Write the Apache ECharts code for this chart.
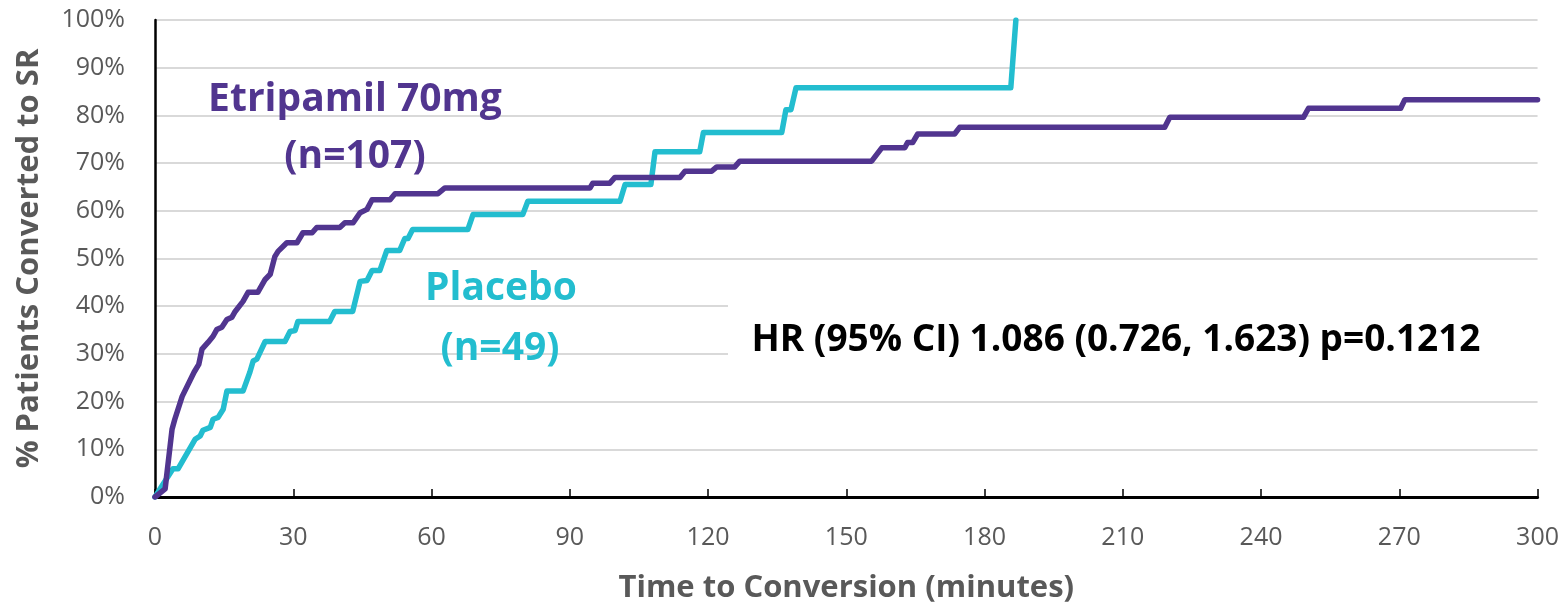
<!DOCTYPE html>
<html>
<head>
<meta charset="utf-8">
<script src="https://cdn.jsdelivr.net/npm/echarts@6/dist/echarts.min.js"></script>
<style>
  html, body { margin: 0; padding: 0; background: #ffffff; }
  #chart { width: 1562px; height: 609px; }
</style>
</head>
<body>
<div id="chart"></div>
<script>
// ---- Data ----
const xTickValues = [0, 30, 60, 90, 120, 150, 180, 210, 240, 270, 300];
const yTickValues = [0, 10, 20, 30, 40, 50, 60, 70, 80, 90, 100];

const etripamilTime = [0, 0.4, 2.2, 3.7, 4.3, 5.9, 8.5, 9.5, 10.2, 11.5, 12.6, 13.4, 14.5, 15.6, 16.7, 17.4, 19.1, 20.2, 22.3, 23.9, 25.0, 26.0, 26.7, 28.6, 30.8, 32.1, 34.1, 35.1, 40.1, 41.2, 43.0, 44.5, 46.0, 47.1, 51.0, 52.1, 61.4, 62.9, 94.4, 95.0, 98.7, 99.8, 113.9, 115.0, 120.8, 121.9, 125.8, 126.9, 155.5, 157.7, 162.7, 163.3, 164.4, 165.5, 173.5, 174.6, 219.1, 220.2, 249.2, 250.3, 270.3, 271.2, 300];
const etripamilPct  = [0, 0, 1.7, 14.2, 16.3, 21.1, 26.2, 27.8, 31.0, 32.4, 33.7, 35.1, 35.6, 37.2, 37.7, 38.9, 41.0, 42.9, 42.9, 45.6, 46.7, 50.4, 51.5, 53.3, 53.3, 55.4, 55.4, 56.5, 56.5, 57.5, 57.5, 59.6, 60.3, 62.3, 62.3, 63.6, 63.6, 64.8, 64.8, 65.8, 65.8, 67.0, 67.0, 68.3, 68.3, 69.2, 69.2, 70.4, 70.4, 73.2, 73.2, 74.3, 74.3, 76.1, 76.1, 77.5, 77.5, 79.6, 79.6, 81.5, 81.5, 83.3, 83.3];

const placeboTime = [0, 1.5, 3.9, 5.0, 8.7, 9.8, 10.4, 12.0, 12.6, 13.7, 14.8, 15.6, 19.1, 20.6, 21.3, 22.1, 23.9, 28.2, 29.3, 30.4, 31.0, 37.9, 39.0, 42.9, 44.5, 46.0, 47.1, 48.8, 50.3, 53.1, 54.2, 54.9, 55.9, 67.9, 69.0, 79.8, 80.9, 100.9, 102.0, 107.6, 108.5, 118.2, 119.0, 136.0, 136.9, 138.0, 139.1, 185.7, 186.8];
const placeboPct  = [0, 2.3, 5.9, 5.9, 12.1, 12.8, 14.0, 14.6, 16.3, 16.7, 18.4, 22.2, 22.2, 26.2, 28.5, 28.9, 32.6, 32.6, 34.7, 34.9, 36.8, 36.8, 38.9, 38.9, 45.2, 45.4, 47.5, 47.5, 51.7, 51.7, 54.2, 54.2, 56.1, 56.1, 59.2, 59.2, 62.0, 62.0, 65.5, 65.5, 72.4, 72.4, 76.4, 76.4, 81.2, 81.2, 85.8, 85.8, 100];

const labels = {
  etripamil: ['Etripamil 70mg', '(n=107)'],
  placebo: ['Placebo', '(n=49)'],
  hr: 'HR (95% CI) 1.086 (0.726, 1.623) p=0.1212',
  xName: 'Time to Conversion (minutes)',
  yName: '% Patients Converted to SR'
};

const PURPLE = '#51358F';
const CYAN = '#23BDCF';
const GRAY = '#595959';

const pair = (xs, ys) => xs.map((x, i) => [x, ys[i]]);

const chart = echarts.init(document.getElementById('chart'), null, { renderer: 'canvas' });

const option = {
  animation: false,
  backgroundColor: '#ffffff',
  grid: { left: 155, right: 24, top: 20, bottom: 111, containLabel: false },
  xAxis: {
    type: 'value',
    min: xTickValues[0],
    max: xTickValues[xTickValues.length - 1],
    interval: 30,
    name: labels.xName,
    nameLocation: 'middle',
    nameGap: 76,
    nameTextStyle: { fontFamily: 'Open Sans', fontWeight: 'bold', fontSize: 31, color: GRAY },
    axisLine: { show: true, lineStyle: { color: '#000000', width: 3 } },
    axisTick: { show: true, inside: true, length: 8, lineStyle: { color: '#000000', width: 1.5 } },
    axisLabel: { margin: 28, fontFamily: 'Open Sans', fontSize: 25, color: GRAY },
    splitLine: { show: false }
  },
  yAxis: {
    type: 'value',
    min: yTickValues[0],
    max: yTickValues[yTickValues.length - 1],
    interval: 10,
    name: labels.yName,
    nameLocation: 'middle',
    nameGap: 110,
    nameTextStyle: { fontFamily: 'Open Sans', fontWeight: 'bold', fontSize: 31, color: GRAY },
    axisLine: { show: true, lineStyle: { color: '#000000', width: 2.5 } },
    axisTick: { show: false },
    axisLabel: { margin: 30, fontFamily: 'Open Sans', fontSize: 25, color: GRAY, formatter: '{value}%' },
    splitLine: { show: true, lineStyle: { color: '#D9D9D9', width: 2 } }
  },
  series: [
    {
      name: 'Placebo',
      type: 'line',
      data: pair(placeboTime, placeboPct),
      showSymbol: false,
      symbol: 'none',
      lineStyle: { color: CYAN, width: 5.5, join: 'round', cap: 'round' },
      z: 3
    },
    {
      name: 'Etripamil 70mg',
      type: 'line',
      data: pair(etripamilTime, etripamilPct),
      showSymbol: false,
      symbol: 'none',
      lineStyle: { color: PURPLE, width: 5.5, join: 'round', cap: 'round' },
      z: 4
    }
  ],
  graphic: [
    { type: 'rect', left: 728, top: 303, shape: { width: 810, height: 76 }, style: { fill: '#ffffff' }, z: 10 },
    { type: 'text', x: 355, y: 100, z: 11, style: { text: labels.etripamil[0], fill: PURPLE, font: 'bold 39px "Open Sans"', textAlign: 'center', textVerticalAlign: 'middle' } },
    { type: 'text', x: 355, y: 157, z: 11, style: { text: labels.etripamil[1], fill: PURPLE, font: 'bold 39px "Open Sans"', textAlign: 'center', textVerticalAlign: 'middle' } },
    { type: 'text', x: 501, y: 289, z: 11, style: { text: labels.placebo[0], fill: CYAN, font: 'bold 39px "Open Sans"', textAlign: 'center', textVerticalAlign: 'middle' } },
    { type: 'text', x: 500, y: 349, z: 11, style: { text: labels.placebo[1], fill: CYAN, font: 'bold 39px "Open Sans"', textAlign: 'center', textVerticalAlign: 'middle' } },
    { type: 'text', x: 1116, y: 340, z: 11, style: { text: labels.hr, fill: '#000000', font: 'bold 37px "Open Sans"', textAlign: 'center', textVerticalAlign: 'middle' } }
  ]
};

chart.setOption(option);
</script>
</body>
</html>
